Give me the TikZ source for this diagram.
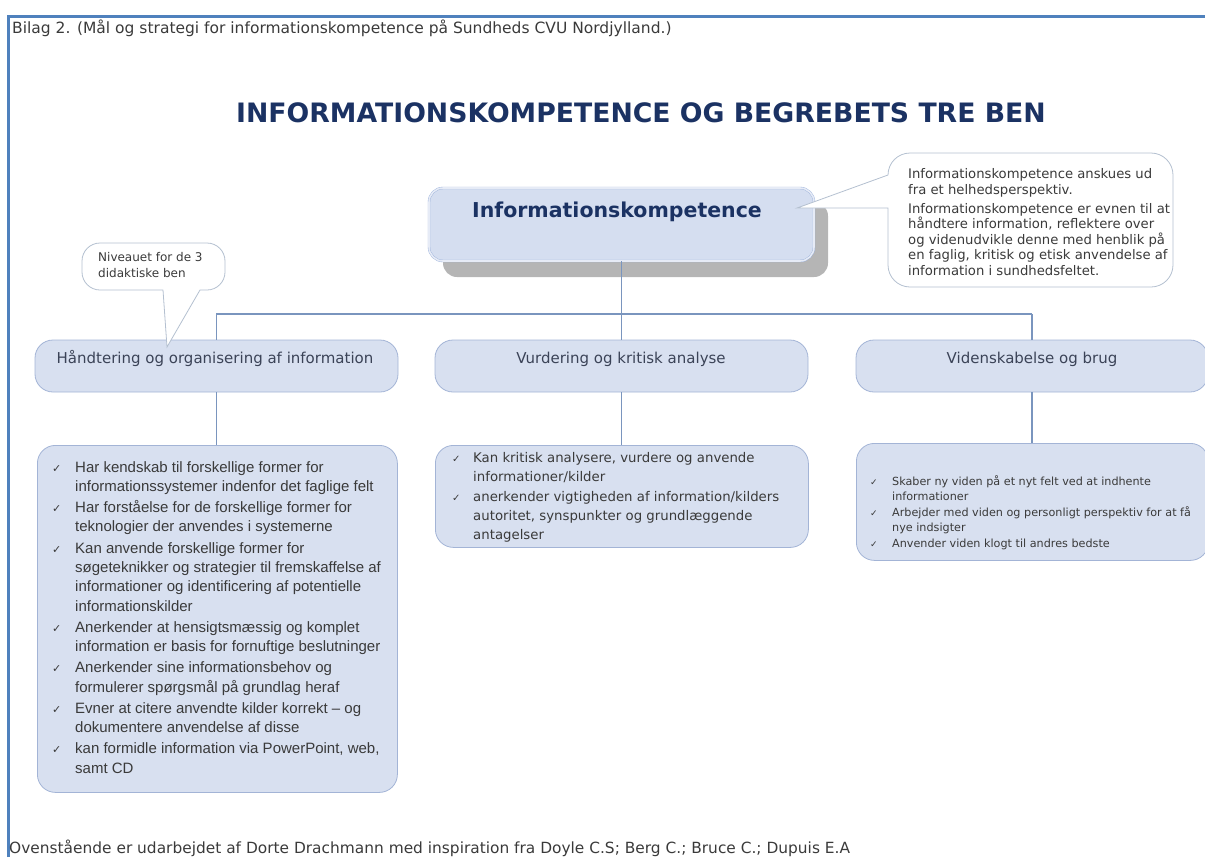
\documentclass[tikz,border=0pt]{standalone}
\usepackage{fontspec}
\setmainfont{DejaVu Sans}
\newfontfamily\arialf{Liberation Sans}
\newfontfamily\dejavu{DejaVu Sans}
\definecolor{frameblue}{HTML}{4F81BD}
\definecolor{boxfill}{HTML}{D8E0F0}
\definecolor{boxdraw}{HTML}{A3B4D6}
\definecolor{connc}{HTML}{7A95BE}
\definecolor{navy}{HTML}{1B3263}
\definecolor{lbltext}{HTML}{3B4357}
\definecolor{listtext}{HTML}{3A3A3A}
\definecolor{callborder}{HTML}{B4C0D0}
\definecolor{shadowc}{HTML}{B5B5B5}
\definecolor{mainline}{HTML}{9DB3DB}
\definecolor{mainfill}{HTML}{D5DEF0}
\newcommand{\ckA}{\makebox[23pt][l]{\dejavu\fontsize{11}{11}\selectfont ✓}}
\newcommand{\inA}{\hspace*{23pt}}
\newcommand{\ckB}{\makebox[21pt][l]{\dejavu\fontsize{10}{10}\selectfont ✓}}
\newcommand{\inB}{\hspace*{21pt}}
\newcommand{\ckC}{\makebox[22pt][l]{\dejavu\fontsize{9}{9}\selectfont ✓}}
\newcommand{\inC}{\hspace*{22pt}}
\begin{document}
\begin{tikzpicture}[x=1pt,y=-1pt,
  lvlbox/.style={draw=boxdraw,fill=boxfill,rounded corners=18pt,line width=0.8pt,inner sep=0pt},
  lvltext/.style={text=lbltext,font=\fontsize{15}{18}\selectfont,anchor=base,inner sep=0pt},
  listbox/.style={draw=boxdraw,fill=boxfill,rounded corners=18pt,line width=0.8pt,inner sep=0pt},
  conn/.style={draw=connc,line width=1.2pt},
  callout/.style={draw=callborder,fill=white,line width=0.8pt},
  plaintext/.style={inner sep=0pt,anchor=base west}]
\useasboundingbox (0,0) rectangle (1205,857);
% frame
\coordinate (ftl) at (8,16);
\coordinate (ftr) at (1205,16);
\coordinate (fbl) at (8,857);
\draw[frameblue,line width=3pt] (fbl) -- (ftl) -- (ftr);
% header, title, footer
\node[plaintext,font=\fontsize{15.5}{18}\selectfont,text=listtext] (header) at (12,33) {Bilag 2. (Mål og strategi for informationskompetence på Sundheds CVU Nordjylland.)};
\node[inner sep=0pt,anchor=base,font=\bfseries\fontsize{26.7}{30}\selectfont,text=navy] (title) at (641,122.5) {INFORMATIONSKOMPETENCE OG BEGREBETS TRE BEN};
\node[plaintext,font=\fontsize{15.4}{18}\selectfont,text=listtext] (footer) at (9,853) {Ovenstående er udarbejdet af Dorte Drachmann med inspiration fra Doyle C.S; Berg C.; Bruce C.; Dupuis E.A};
% main box with shadow
\fill[shadowc,rounded corners=14pt] (443,202) rectangle (828,277);
\node[draw=mainline,double=mainfill!60!white,double distance=1.6pt,fill=mainfill,rounded corners=14pt,minimum width=385pt,minimum height=73pt,inner sep=0pt] (main) at (621.5,224.5) {};
\node[inner sep=0pt,anchor=base,font=\bfseries\fontsize{20.5}{24}\selectfont,text=navy] (maint) at (617,217.5) {Informationskompetence};
% right callout
\draw[callout] (888,175) -- (797,208) -- (888,208) [rounded corners=22pt] -- (888,287) -- (1173,287) -- (1173,153) -- (888,153) -- (888,175);
\node[inner sep=0pt,anchor=base west,align=left,text=listtext,font=\fontsize{13.2}{15.6}\selectfont] (callr) at (908,275.5) {Informationskompetence anskues ud\\fra et helhedsperspektiv.\\[3.4pt]Informationskompetence er evnen til at\\håndtere information, reflektere over\\og videnudvikle denne med henblik på\\en faglig, kritisk og etisk anvendelse af\\information i sundhedsfeltet.};
% level boxes
\node[lvlbox,minimum width=363pt,minimum height=52pt] (lvl1) at (216.5,366) {};
\node[lvlbox,minimum width=373pt,minimum height=52pt] (lvl2) at (621.5,366) {};
\node[lvlbox,minimum width=352pt,minimum height=52pt] (lvl3) at (1032,366) {};
\node[lvltext] (lvl1t) at (215,363.5) {Håndtering og organisering af information};
\node[lvltext] (lvl2t) at (621,363.5) {Vurdering og kritisk analyse};
\node[lvltext] (lvl3t) at (1032,363.5) {Videnskabelse og brug};
% connectors
\coordinate (hubR) at (1032,314);
\draw[conn] (main.south) -- (lvl2.north);
\draw[conn] (lvl1.north) |- (hubR);
\draw[conn] (hubR) -- (lvl3.north);
% list boxes
\node[listbox,minimum width=360pt,minimum height=347pt,anchor=north west] (lb1) at (37,445) {};
\node[listbox,minimum width=373pt,minimum height=102pt,anchor=north west] (lb2) at (435,445) {};
\node[listbox,minimum width=352pt,minimum height=117pt,anchor=north west] (lb3) at (856,443) {};
\draw[conn] (lvl1.south) -- (lvl1.south |- lb1.north);
\draw[conn] (lvl2.south) -- (lvl2.south |- lb2.north);
\draw[conn] (lvl3.south) -- (lvl3.south |- lb3.north);
% left callout
\draw[callout] (163,290) -- (167,347) -- (200,290) [rounded corners=18pt] -- (225,290) -- (225,243) -- (82,243) -- (82,290) -- (163,290);
\node[inner sep=0pt,anchor=base west,align=left,text=listtext,font=\fontsize{12}{16}\selectfont] (calll) at (98,277) {Niveauet for de 3\\didaktiske ben};
% list texts
\node[inner sep=0pt,anchor=base west,align=left,text=listtext,font=\arialf\fontsize{15}{19.3}\selectfont] (lt1) at (52,773) {%
\ckA Har kendskab til forskellige former for\\\inA informationssystemer indenfor det faglige felt\\[1.9pt]%
\ckA Har forståelse for de forskellige former for\\\inA teknologier der anvendes i systemerne\\[1.9pt]%
\ckA Kan anvende forskellige former for\\\inA søgeteknikker og strategier til fremskaffelse af\\\inA informationer og identificering af potentielle\\\inA informationskilder\\[1.9pt]%
\ckA Anerkender at hensigtsmæssig og komplet\\\inA information er basis for fornuftige beslutninger\\[1.9pt]%
\ckA Anerkender sine informationsbehov og\\\inA formulerer spørgsmål på grundlag heraf\\[1.9pt]%
\ckA Evner at citere anvendte kilder korrekt – og\\\inA dokumentere anvendelse af disse\\[1.9pt]%
\ckA kan formidle information via PowerPoint, web,\\\inA samt CD};
\node[inner sep=0pt,anchor=base west,align=left,text=listtext,font=\fontsize{13.3}{19}\selectfont] (lt2) at (452,539) {%
\ckB Kan kritisk analysere, vurdere og anvende\\\inB informationer/kilder\\[1pt]%
\ckB anerkender vigtigheden af information/kilders\\\inB autoritet, synspunkter og grundlæggende\\\inB antagelser};
\node[inner sep=0pt,anchor=base west,align=left,text=listtext,font=\fontsize{11.2}{15}\selectfont] (lt3) at (870,547) {%
\ckC Skaber ny viden på et nyt felt ved at indhente\\\inC informationer\\[1pt]%
\ckC Arbejder med viden og personligt perspektiv for at få\\\inC nye indsigter\\[1pt]%
\ckC Anvender viden klogt til andres bedste};
\end{tikzpicture}
\end{document}
